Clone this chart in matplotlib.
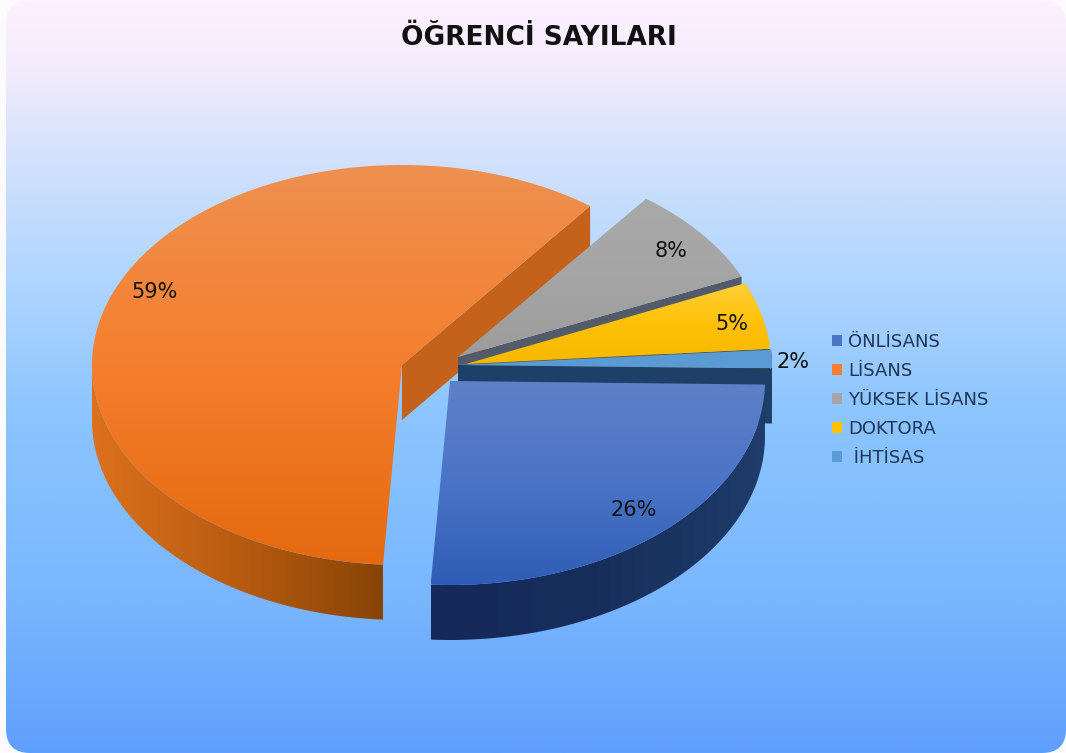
import numpy as np
import matplotlib
matplotlib.use('Agg')
from matplotlib import pyplot as plt
from matplotlib.colors import LinearSegmentedColormap
from matplotlib.patches import FancyBboxPatch, Patch, Polygon

categories = ['ÖNLİSANS', 'LİSANS', 'YÜKSEK LİSANS', 'DOKTORA', ' İHTİSAS']
shares = [25.7, 59.4, 8, 5.4, 1.5]

# centre of each exploded slice, radii and wall height in pixels
centers = [(450, 381), (402, 365), (458, 357), (466, 364), (458, 365)]
radii = [(315, 204), (310, 200), (310, 199), (305, 200), (314, 200)]
DEPTH = 55
START = -1

top_colors = [['#5f80c8', '#4a74c6', '#2f5db5'],
              ['#ee9050', '#f57f2e', '#e5690f'],
              ['#a9a9a9', '#a5a5a5', '#9c9c9c'],
              ['#ffce3a', '#ffc107', '#f7b900'],
              ['#5b9bd5', '#5b9bd5', '#5b9bd5']]
wall_colors = [['#15295a', '#172e5c', '#1f3c6a'],
               ['#dc701d', '#b85c10', '#874407'],
               ['#55606c', '#55606c', '#55606c'],
               ['#5d5a30', '#5d5a30', '#5d5a30'],
               ['#1d3f68', '#1d3f68', '#1d3f68']]
end_wall_colors = [None, '#c4621c', '#535b68', '#5d5a30', '#1d3f68']
bg_stops = [(0.0, '#fef1ff'), (0.09, '#f3ecfd'), (0.2, '#d6e2fc'), (0.36, '#b2d6fe'),
            (0.55, '#8cc5ff'), (0.8, '#79b6fe'), (1.0, '#5f9ffc')]

labels = ['26%', '59%', '8%', '5%', '2%']
label_pos = [(634, 510), (155, 292), (671, 251), (732, 324), (793, 362)]

fig = plt.figure(figsize=(10.66, 7.53), dpi=100)
ax = fig.add_axes([0, 0, 1, 1])
ax.set_xlim(0, 1066)
ax.set_ylim(753, 0)
ax.axis('off')


def gradient_fill(points, colors, vertical=True, zorder=2):
    # paint a gradient over the bounding box and clip it to the polygon
    points = np.asarray(points)
    cmap = LinearSegmentedColormap.from_list('g', colors)
    ramp = np.linspace(0, 1, 256)
    ramp = ramp.reshape(-1, 1) if vertical else ramp.reshape(1, -1)
    extent = [points[:, 0].min(), points[:, 0].max(), points[:, 1].max(), points[:, 1].min()]
    im = ax.imshow(ramp, cmap=cmap, extent=extent, aspect='auto', zorder=zorder)
    poly = Polygon(points, closed=True, transform=ax.transData, fc='none', ec='none')
    ax.add_patch(poly)
    im.set_clip_path(poly)


def rim(i, a0, a1):
    t = np.radians(np.linspace(a0, a1, 120))
    cx, cy = centers[i]
    rx, ry = radii[i]
    return np.column_stack([cx + rx * np.cos(t), cy - ry * np.sin(t)])


# rounded background panel
cmap_bg = LinearSegmentedColormap.from_list('bg', bg_stops)
bg = ax.imshow(np.linspace(0, 1, 512).reshape(-1, 1), cmap=cmap_bg,
               extent=[0, 1066, 753, 0], aspect='auto', zorder=1)
clip = FancyBboxPatch((6, 0), 1060, 753, boxstyle='round,pad=0,rounding_size=24',
                      fc='none', ec='none', transform=ax.transData)
ax.add_patch(clip)
bg.set_clip_path(clip)

# slice angles, measured anticlockwise from east, running clockwise through the shares
edges = START - np.cumsum([0] + [s * 3.6 for s in shares])
spans = [(edges[i], edges[i + 1]) for i in range(len(shares))]

# back slices first so the nearer ones cover them
order = [1, 2, 3, 4, 0]
z = 2
for i in order:
    a0, a1 = spans[i]
    cx, cy = centers[i]
    down = np.array([0, DEPTH])

    # outer wall, only the part of the rim in the front half
    lo, hi = max(a1, -180), min(a0, 0)
    if i == 1:
        lo, hi = -180, a0
    if i == 4:
        lo, hi = a0 - 6, a0
    if hi > lo:
        arc = rim(i, hi, lo)
        gradient_fill(np.vstack([arc, (arc + down)[::-1]]), wall_colors[i], vertical=False, zorder=z)
        z += 1

    # wall along the clockwise end of the slice
    apex = np.array([cx, cy])
    if end_wall_colors[i]:
        end = rim(i, a1, a1)[0]
        ax.add_patch(Polygon([apex, end, end + down, apex + down], closed=True,
                             fc=end_wall_colors[i], ec='none', zorder=z))
        z += 1

    top = np.vstack([apex, rim(i, a0, a1)])
    gradient_fill(top, top_colors[i], zorder=z)
    z += 1

for text, (x, y) in zip(labels, label_pos):
    ax.text(x, y, text, fontsize=15, color='#111111', ha='center', va='center', zorder=50)

ax.text(539, 38, 'ÖĞRENCİ SAYILARI', fontsize=19, fontweight='bold', color='#111111',
        ha='center', va='center', zorder=50)

legend_colors = [c[1] for c in top_colors]
handles = [Patch(fc=c, ec='none') for c in legend_colors]
leg = ax.legend(handles, categories, loc='upper left', bbox_to_anchor=(832 / 1066, 1 - 333 / 753),
                frameon=False, fontsize=13, labelcolor='#1f3556', handlelength=0.55, handleheight=0.55,
                handletextpad=0.33, labelspacing=0.61, borderpad=0, borderaxespad=0)
leg.set_zorder(50)

plt.savefig('out.png', dpi=100, facecolor='#fbfbfd')
